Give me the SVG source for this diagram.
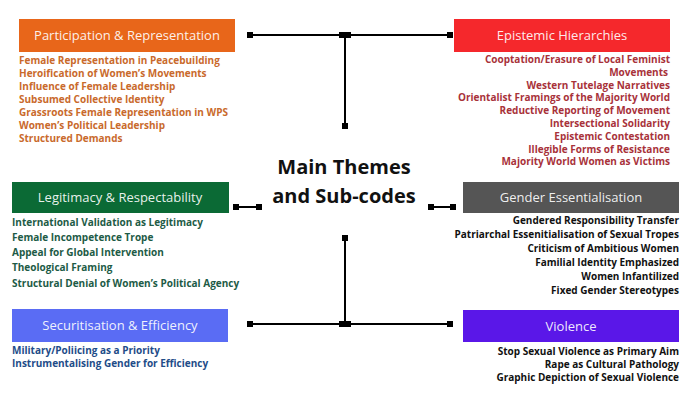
<svg xmlns="http://www.w3.org/2000/svg" width="693" height="400" viewBox="0 0 693 400">
<style>
.title{font-family:"Open Sans","Liberation Sans",sans-serif;font-size:13px;fill:#ffffff;fill-opacity:0.92;text-anchor:middle}
.sub{font-family:"Open Sans","Liberation Sans",sans-serif;font-size:10px;font-weight:bold}
.r{text-anchor:end}
.main{font-family:"Open Sans","Liberation Sans",sans-serif;font-size:20px;font-weight:bold;fill:#111;text-anchor:middle}
.ln{stroke:#000;stroke-width:2;fill:none}
.dot{fill:#000}
</style>
<rect width="693" height="400" fill="#ffffff"/>
<g id="connectors">
<line class="ln" x1="250" y1="35" x2="450" y2="35"/>
<line class="ln" x1="345" y1="35" x2="345" y2="126"/>
<rect class="dot" x="247" y="32" width="6" height="6"/>
<rect class="dot" x="447" y="32" width="6" height="6"/>
<rect class="dot" x="339" y="32" width="7" height="6"/>
<rect class="dot" x="344" y="32" width="7" height="6"/>
<rect class="dot" x="342" y="123" width="6" height="6"/>
<line class="ln" x1="236" y1="207" x2="259" y2="207"/>
<rect class="dot" x="233" y="204" width="6" height="6"/>
<rect class="dot" x="256" y="204" width="6" height="6"/>
<line class="ln" x1="431" y1="207" x2="453" y2="207"/>
<rect class="dot" x="428" y="204" width="6" height="6"/>
<rect class="dot" x="450" y="204" width="6" height="6"/>
<line class="ln" x1="250" y1="324" x2="450" y2="324"/>
<line class="ln" x1="345" y1="238" x2="345" y2="324"/>
<rect class="dot" x="247" y="321" width="6" height="6"/>
<rect class="dot" x="447" y="321" width="6" height="6"/>
<rect class="dot" x="339" y="321" width="7" height="6"/>
<rect class="dot" x="344" y="321" width="7" height="6"/>
<rect class="dot" x="342" y="235" width="6" height="6"/>
</g>
<g id="center">
<text class="main" x="344" y="174">Main Themes</text>
<text class="main" x="344" y="203">and Sub-codes</text>
</g>
<g id="participation">
<rect x="19" y="19" width="216" height="33" fill="#E8661A"/>
<text class="title" x="127" y="40">Participation &amp; Representation</text>
<g class="sub" fill="#C96A2C">
<text x="19" y="64">Female Representation in Peacebuilding</text>
<text x="19" y="77">Heroification of Women’s Movements</text>
<text x="19" y="90">Influence of Female Leadership</text>
<text x="19" y="103">Subsumed Collective Identity</text>
<text x="19" y="116">Grassroots Female Representation in WPS</text>
<text x="19" y="129">Women’s Political Leadership</text>
<text x="19" y="142">Structured Demands</text>
</g>
</g>
<g id="epistemic">
<rect x="454" y="19" width="216" height="33" fill="#F5282C"/>
<text class="title" x="562" y="40">Epistemic Hierarchies</text>
<g class="sub r" fill="#A8323A">
<text x="670" y="63">Cooptation/Erasure of Local Feminist</text>
<text x="668" y="75.8">Movements</text>
<text x="670" y="88.6">Western Tutelage Narratives</text>
<text x="670" y="101.4">Orientalist Framings of the Majority World</text>
<text x="670" y="114.2">Reductive Reporting of Movement</text>
<text x="670" y="127">Intersectional Solidarity</text>
<text x="670" y="139.8">Epistemic Contestation</text>
<text x="670" y="152.6">Illegible Forms of Resistance</text>
<text x="670" y="165.4">Majority World Women as Victims</text>
</g>
</g>
<g id="legitimacy">
<rect x="12" y="182" width="217" height="31" fill="#0B6A35"/>
<text class="title" x="120" y="202">Legitimacy &amp; Respectability</text>
<g class="sub" fill="#1D5B46">
<text x="12" y="225.5">International Validation as Legitimacy</text>
<text x="12" y="241">Female Incompetence Trope</text>
<text x="12" y="256">Appeal for Global Intervention</text>
<text x="12" y="271">Theological Framing</text>
<text x="12" y="286.5">Structural Denial of Women’s Political Agency</text>
</g>
</g>
<g id="gender">
<rect x="463" y="182" width="216" height="31" fill="#555555"/>
<text class="title" x="571" y="202">Gender Essentialisation</text>
<g class="sub r" fill="#111111">
<text x="679" y="223.5">Gendered Responsibility Transfer</text>
<text x="679" y="238">Patriarchal Essenitialisation of Sexual Tropes</text>
<text x="679" y="252">Criticism of Ambitious Women</text>
<text x="679" y="266">Familial Identity Emphasized</text>
<text x="679" y="280">Women Infantilized</text>
<text x="679" y="294">Fixed Gender Stereotypes</text>
</g>
</g>
<g id="securitisation">
<rect x="12" y="309" width="216" height="33" fill="#5A6CF4"/>
<text class="title" x="120" y="330">Securitisation &amp; Efficiency</text>
<g class="sub" fill="#1E4C88">
<text x="12" y="354">Military/Poliicing as a Priority</text>
<text x="12" y="367">Instrumentalising Gender for Efficiency</text>
</g>
</g>
<g id="violence">
<rect x="463" y="310" width="216" height="32" fill="#5A17E8"/>
<text class="title" x="571" y="331">Violence</text>
<g class="sub r" fill="#111111">
<text x="679" y="355">Stop Sexual Violence as Primary Aim</text>
<text x="679" y="368">Rape as Cultural Pathology</text>
<text x="679" y="381">Graphic Depiction of Sexual Violence</text>
</g>
</g>
</svg>
